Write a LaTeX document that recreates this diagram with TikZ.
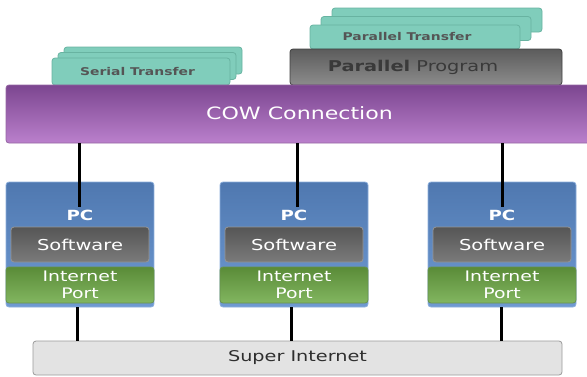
\documentclass[tikz,border=0pt]{standalone}
\usepackage{fontspec}
\setmainfont{DejaVu Sans}
\newfontfamily\lab[FakeStretch=1.3]{DejaVu Sans}
\definecolor{purpT}{HTML}{7C4690}
\definecolor{purpB}{HTML}{BA80CC}
\definecolor{blueT}{HTML}{4F78B0}
\definecolor{blueB}{HTML}{6F9AD2}
\definecolor{swT}{HTML}{565656}
\definecolor{swB}{HTML}{7A7A7A}
\definecolor{grT}{HTML}{5A8B38}
\definecolor{grB}{HTML}{82B660}
\definecolor{teal1}{HTML}{80CDBB}
\definecolor{teal2}{HTML}{68B3A1}
\definecolor{ppT}{HTML}{5C5C5C}
\definecolor{ppB}{HTML}{8C8C8C}
\definecolor{siF}{HTML}{E3E3E3}
\definecolor{siD}{HTML}{9A9A9A}
\definecolor{txtg}{HTML}{555555}
\definecolor{txtd}{HTML}{3A3A3A}
\tikzset{
  box/.style={rectangle, rounded corners=3pt, inner sep=0pt, line width=0.8pt},
  tealbox/.style={box, fill=teal1, draw=teal2, minimum width=178pt, minimum height=27pt},
  ptbox/.style={box, fill=teal1, draw=teal2, minimum width=210pt, minimum height=24pt},
  pcbox/.style={box, top color=blueT, bottom color=blueB, draw=blueB!80!white, minimum width=148pt, minimum height=125pt},
  swbox/.style={box, top color=swT, bottom color=swB, draw=swB!80!white, minimum width=138pt, minimum height=35pt, text=white, font=\lab\fontsize{15}{17}\selectfont},
  grbox/.style={box, top color=grT, bottom color=grB, draw=grB!80!black, minimum width=148pt, minimum height=36pt, text=white, align=center, font=\lab\fontsize{14.5}{16.5}\selectfont},
  pclabel/.style={text=white, font=\lab\bfseries\fontsize{14}{16}\selectfont},
  smalllabel/.style={text=txtg, font=\lab\bfseries\fontsize{10.7}{12}\selectfont},
  wire/.style={line width=3pt, black}
}
\begin{document}
\begin{tikzpicture}[x=1pt,y=-1pt]
\useasboundingbox (0,0) rectangle (587,376);
\begin{scope}
\clip (0,0) rectangle (587,376);
% Serial transfer stack
\node[tealbox] (s3) at (153,60.5) {};
\node[tealbox] (s2) at (147,66) {};
\node[tealbox] (s1) at (141,71.5) {};
\node[smalllabel] (s1t) at (137.5,71.5) {Serial Transfer};
% Parallel transfer stack
\node[ptbox] (p3) at (437,20) {};
\node[ptbox] (p2) at (426,28.5) {};
\node[ptbox] (p1) at (415,37) {};
\node[smalllabel] (p1t) at (407,37) {Parallel Transfer};
% Parallel program
\node[box, top color=ppT, bottom color=ppB, draw=ppT!70!black, minimum width=272pt, minimum height=36pt] (pp) at (426,67) {};
\node[text=txtd, font=\lab\fontsize{14.9}{17}\selectfont] (ppt) at (413,67) {\textbf{Parallel} Program};
% COW connection
\node[box, top color=purpT, bottom color=purpB, draw=purpB!80!black, minimum width=589pt, minimum height=58pt] (cow) at (300.5,114) {};
\node[text=white, font=\lab\fontsize{17}{19}\selectfont] (cowt) at (299.5,113) {COW Connection};
\end{scope}
% PCs
\foreach \i/\x in {1/80,2/294,3/502}{
  \node[pcbox] (pc\i) at (\x,244.5) {};
  \node[swbox] (sw\i) at (\x,244.5) {Software};
  \node[grbox] (ip\i) at (\x,285) {Internet\\[0.5pt]Port};
}
\coordinate (t1) at (79,207);
\coordinate (t2) at (297,207);
\coordinate (t3) at (502,207);
\draw[wire] (t1 |- cow.south) -- (t1);
\draw[wire] (t2 |- cow.south) -- (t2);
\draw[wire] (t3 |- cow.south) -- (t3);
\foreach \i/\x in {1/80,2/294,3/502}{
  \node[pclabel] (pcl\i) at (\x,215) {PC};
}
% Super internet
\node[box, fill=siF, draw=siD, minimum width=529pt, minimum height=34pt, text=txtd!80!black, font=\lab\fontsize{14.8}{17}\selectfont] (si) at (297.5,358) {Super Internet};
\coordinate (b1) at (77,307);
\coordinate (b2) at (291,307);
\coordinate (b3) at (501,307);
\draw[wire] (b1) -- (b1 |- si.north);
\draw[wire] (b2) -- (b2 |- si.north);
\draw[wire] (b3) -- (b3 |- si.north);
\end{tikzpicture}
\end{document}
